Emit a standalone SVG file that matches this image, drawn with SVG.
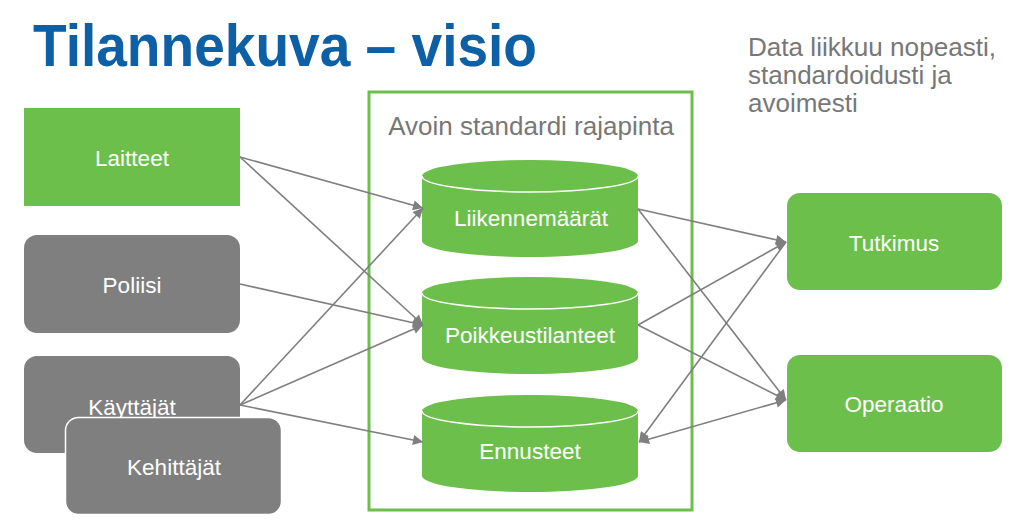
<svg xmlns="http://www.w3.org/2000/svg" width="1023" height="520" viewBox="0 0 1023 520">
<style>
.lbl{font-family:"Liberation Sans",Arial,sans-serif;font-size:22.5px;fill:#ffffff;text-anchor:middle}
.green{fill:#6cbf4a}
.gray{fill:#7f7f7f}
.conn{stroke:#7f7f7f;stroke-width:1.6;fill:none;marker-end:url(#arr)}
.note{font-family:"Liberation Sans",Arial,sans-serif;font-size:26px;fill:#777777}
</style>
<defs>
<marker id="arr" viewBox="0 0 10 10" refX="10" refY="5" markerWidth="11" markerHeight="10" markerUnits="userSpaceOnUse" orient="auto-start-reverse">
<path d="M0,0 L10,5 L0,10 Z" fill="#7f7f7f"/>
</marker>
<path id="cyl" d="M422,0 A108,16 0 0 1 638,0 L638,65 A108,16 0 0 1 422,65 Z"/>
</defs>
<rect width="1023" height="520" fill="#ffffff"/>
<text x="33" y="66" font-family="'Liberation Sans',Arial,sans-serif" font-size="60" font-weight="bold" fill="#0d5fa6" textLength="504" lengthAdjust="spacingAndGlyphs">Tilannekuva – visio</text>
<g id="note">
<text class="note" x="748" y="56" textLength="248" lengthAdjust="spacingAndGlyphs">Data liikkuu nopeasti,</text>
<text class="note" x="748" y="84">standardoidusti ja</text>
<text class="note" x="748" y="112">avoimesti</text>
</g>
<g id="container">
<rect x="369" y="92" width="323" height="418" fill="none" stroke="#6cbf4a" stroke-width="3"/>
<text class="note" x="531" y="135" text-anchor="middle">Avoin standardi rajapinta</text>
</g>
<g id="laitteet">
<rect class="green" x="24" y="108" width="216" height="98"/>
<text class="lbl" x="132" y="166">Laitteet</text>
</g>
<g id="poliisi">
<rect class="gray" x="24" y="235" width="216" height="98" rx="13"/>
<text class="lbl" x="132" y="293">Poliisi</text>
</g>
<g id="kayttajat">
<rect class="gray" x="24" y="356" width="216" height="97" rx="13"/>
<text class="lbl" x="132" y="415">Käyttäjät</text>
</g>
<g id="kehittajat">
<rect class="gray" x="65.5" y="417.5" width="216" height="97" rx="13" stroke="#ffffff" stroke-width="1.5"/>
<text class="lbl" x="174" y="475">Kehittäjät</text>
</g>
<g id="liikennemaarat">
<use href="#cyl" class="green" transform="translate(0,176)"/>
<path d="M422,176 A108,16 0 0 0 638,176" fill="none" stroke="#ffffff" stroke-width="1.5"/>
<text class="lbl" x="531" y="226">Liikennemäärät</text>
</g>
<g id="poikkeustilanteet">
<use href="#cyl" class="green" transform="translate(0,293)"/>
<path d="M422,293 A108,16 0 0 0 638,293" fill="none" stroke="#ffffff" stroke-width="1.5"/>
<text class="lbl" x="530" y="343">Poikkeustilanteet</text>
</g>
<g id="ennusteet">
<use href="#cyl" class="green" transform="translate(0,411)"/>
<path d="M422,411 A108,16 0 0 0 638,411" fill="none" stroke="#ffffff" stroke-width="1.5"/>
<text class="lbl" x="530" y="459">Ennusteet</text>
</g>
<g id="tutkimus">
<rect class="green" x="787" y="193" width="215" height="97" rx="13"/>
<text class="lbl" x="894" y="251">Tutkimus</text>
</g>
<g id="operaatio">
<rect class="green" x="787" y="355" width="215" height="97" rx="13"/>
<text class="lbl" x="894" y="412">Operaatio</text>
</g>
<g id="connectors">
<line class="conn" x1="240" y1="157" x2="423" y2="208"/>
<line class="conn" x1="240" y1="157" x2="423" y2="325"/>
<line class="conn" x1="240" y1="284" x2="423" y2="325"/>
<line class="conn" x1="240" y1="405" x2="423" y2="208"/>
<line class="conn" x1="240" y1="405" x2="423" y2="325"/>
<line class="conn" x1="240" y1="405" x2="423" y2="442"/>
<line class="conn" x1="638" y1="209" x2="786" y2="242"/>
<line class="conn" x1="638" y1="209" x2="786" y2="400"/>
<line class="conn" x1="638" y1="325" x2="786" y2="242"/>
<line class="conn" x1="638" y1="325" x2="786" y2="400"/>
<line class="conn" x1="786" y1="242" x2="639" y2="442"/>
<line class="conn" x1="786" y1="400" x2="639" y2="442" style="marker-start:url(#arr)"/>
</g>
</svg>
